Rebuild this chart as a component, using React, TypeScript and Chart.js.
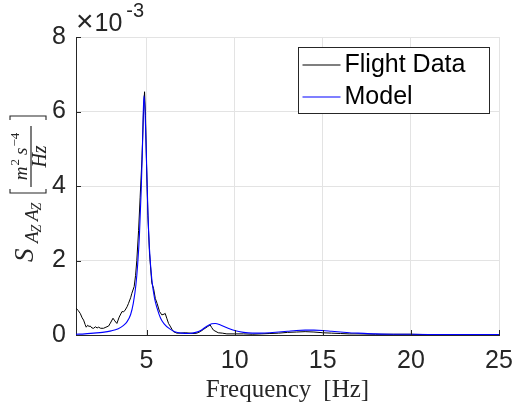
import { useEffect, useRef } from 'react';
import { Chart, registerables } from 'chart.js';

Chart.register(...registerables);

// PSD values are in units of 1e-3 m^2 s^-4 / Hz
const flightFreq = [
  1.0, 1.12, 1.24, 1.35, 1.43, 1.52, 1.58, 1.66, 1.74, 1.81, 1.9, 2.0, 2.1, 2.2, 2.28, 2.4, 2.56, 2.7, 2.85, 2.95,
  3.1, 3.2, 3.32, 3.45, 3.61, 3.7, 3.79, 3.9, 3.98, 4.1, 4.17, 4.3, 4.38, 4.45, 4.55, 4.64, 4.74, 4.83, 4.89, 4.94,
  5.0, 5.08, 5.17, 5.3, 5.4, 5.5, 5.6, 5.74, 5.87, 6.0, 6.06, 6.15, 6.25, 6.34, 6.45, 6.53, 6.72, 6.91,
  7.2, 7.48, 7.7, 7.86, 8.05, 8.23, 8.45, 8.61, 8.7, 8.8, 9.07, 9.3, 9.56, 10.0, 10.5, 11.0, 11.5, 12.0, 12.5, 13.0,
  13.5, 14.0, 14.5, 15.0, 15.5, 16.0, 16.5, 17.0, 18.0, 19.0, 20.0, 21.0, 22.0, 23.0, 24.0, 25.0,
];
const flightPsd = [
  0.72, 0.66, 0.58, 0.46, 0.40, 0.28, 0.21, 0.26, 0.23, 0.24, 0.19, 0.18, 0.22, 0.19, 0.21, 0.18, 0.18, 0.21, 0.24, 0.32,
  0.45, 0.38, 0.31, 0.48, 0.63, 0.62, 0.67, 0.76, 0.85, 1.0, 1.12, 1.30, 1.6, 2.0, 2.8, 3.7, 4.7, 6.0, 6.53, 5.9,
  4.6, 3.2, 2.2, 1.4, 1.25, 0.98, 0.85, 0.63, 0.54, 0.56, 0.58, 0.45, 0.31, 0.24, 0.15, 0.09, 0.05, 0.05,
  0.06, 0.05, 0.04, 0.05, 0.09, 0.15, 0.22, 0.27, 0.2, 0.13, 0.06, 0.05, 0.03, 0.03, 0.03, 0.02, 0.03, 0.04, 0.05, 0.07,
  0.08, 0.09, 0.08, 0.06, 0.05, 0.04, 0.03, 0.03, 0.02, 0.02, 0.02, 0.01, 0.01, 0.01, 0.01, 0.01,
];
const modelFreq = [
  1.0, 1.5, 2.0, 2.5, 3.0, 3.4, 3.7, 3.9, 4.1, 4.25, 4.4, 4.5, 4.6, 4.7, 4.78, 4.85, 4.92, 5.0, 5.08, 5.17,
  5.3, 5.45, 5.6, 5.8, 6.0, 6.3, 6.6, 7.0, 7.4, 7.8, 8.1, 8.4, 8.7, 8.9, 9.2, 9.6, 10.0, 10.5, 11.0, 11.5,
  12.0, 12.5, 13.0, 13.5, 14.0, 14.5, 15.0, 15.5, 16.0, 16.5, 17.0, 18.0, 19.0, 20.0, 22.0, 25.0,
];
const modelPsd = [
  0.02, 0.03, 0.05, 0.07, 0.11, 0.17, 0.26, 0.36, 0.55, 0.85, 1.35, 1.9, 2.7, 3.9, 5.2, 6.42, 6.0, 4.7, 3.3, 2.3,
  1.5, 1.0, 0.72, 0.45, 0.3, 0.17, 0.09, 0.05, 0.04, 0.07, 0.13, 0.23, 0.30, 0.31, 0.27, 0.19, 0.12, 0.07, 0.05, 0.05,
  0.06, 0.08, 0.10, 0.12, 0.13, 0.13, 0.12, 0.10, 0.08, 0.06, 0.05, 0.03, 0.02, 0.02, 0.01, 0.01,
];

const xTickValues = [5, 10, 15, 20, 25];
const yTickValues = [0, 2, 4, 6, 8];
const seriesNames = ['Flight Data', 'Model'];
const seriesColors = ['#000000', '#0000ff'];
const xTitleMain = 'Frequency';
const xTitleUnit = '[Hz]';
const yExponentText = '-3';

const SANS = '"Liberation Sans", Arial, Helvetica, sans-serif';
const SERIF = '"Liberation Serif", "Times New Roman", serif';
const AXIS_COLOR = '#262626';

const overlayPlugin = {
  id: 'matlabOverlay',
  afterDraw(chart: any) {
    const ctx: CanvasRenderingContext2D = chart.ctx;
    const { left, right, top, bottom } = chart.chartArea;
    const xs = chart.scales.x;
    const ys = chart.scales.y;
    ctx.save();

    // inward tick marks
    ctx.strokeStyle = AXIS_COLOR;
    ctx.lineWidth = 1;
    ctx.beginPath();
    for (const v of xTickValues) {
      const px = Math.round(xs.getPixelForValue(v)) + 0.5;
      ctx.moveTo(px, bottom);
      ctx.lineTo(px, bottom - 5);
    }
    for (const v of yTickValues) {
      const py = Math.round(ys.getPixelForValue(v)) + 0.5;
      ctx.moveTo(left, py);
      ctx.lineTo(left + 5, py);
    }
    ctx.stroke();

    // exponent label
    ctx.fillStyle = AXIS_COLOR;
    ctx.textBaseline = 'alphabetic';
    ctx.textAlign = 'left';
    ctx.font = `30px ${SANS}`;
    ctx.fillText('\u00d7', left, top - 6);
    const tw = ctx.measureText('\u00d7').width;
    ctx.font = `25px ${SANS}`;
    ctx.fillText('10', left + tw + 1, top - 6);
    const w10 = ctx.measureText('10').width;
    ctx.font = `20px ${SANS}`;
    ctx.fillText(yExponentText, left + tw + 1 + w10 + 4, top - 20);

    // legend
    const bw = 191, bh = 66;
    const bx = Math.round(right - 10 - bw) + 0.5;
    const by = Math.round(top + 10) + 0.5;
    ctx.fillStyle = '#ffffff';
    ctx.fillRect(bx, by, bw, bh);
    ctx.strokeStyle = AXIS_COLOR;
    ctx.lineWidth = 1;
    ctx.strokeRect(bx, by, bw, bh);
    const rows = [by + 17, by + 49];
    ctx.font = `25px ${SANS}`;
    ctx.textBaseline = 'middle';
    seriesNames.forEach((name, i) => {
      const ry = Math.round(rows[i]);
      ctx.strokeStyle = seriesColors[i];
      ctx.lineWidth = 1.2;
      ctx.beginPath();
      ctx.moveTo(bx + 4, ry);
      ctx.lineTo(bx + 42, ry);
      ctx.stroke();
      ctx.fillStyle = '#000000';
      ctx.fillText(name, bx + 46, rows[i] + 1);
    });

    // x axis title
    ctx.fillStyle = AXIS_COLOR;
    ctx.textBaseline = 'alphabetic';
    ctx.font = `25px ${SERIF}`;
    const w1 = ctx.measureText(xTitleMain).width;
    const w2 = ctx.measureText(xTitleUnit).width;
    const gap = 12;
    const tx = (left + right) / 2 - (w1 + gap + w2) / 2;
    ctx.fillText(xTitleMain, tx, 397);
    ctx.fillText(xTitleUnit, tx + w1 + gap, 397);

    // y axis title (rotated); u along text, v perpendicular (down in text)
    ctx.save();
    ctx.translate(31, (top + bottom) / 2);
    ctx.rotate(-Math.PI / 2);
    ctx.fillStyle = AXIS_COLOR;
    ctx.strokeStyle = AXIS_COLOR;
    ctx.font = `italic 27px ${SERIF}`;
    ctx.fillText('S', -76, 2);
    const subStarts = [-57, -35];
    for (const s of subStarts) {
      ctx.font = `italic 19px ${SERIF}`;
      ctx.fillText('A', s, 7);
      const aw = ctx.measureText('A').width;
      ctx.font = `italic 14px ${SERIF}`;
      ctx.fillText('Z', s + aw - 1, 10);
    }
    const bracket = (pos: number, dir: number) => {
      ctx.lineWidth = 1.1;
      ctx.beginPath();
      ctx.moveTo(pos + dir * 4, -21);
      ctx.lineTo(pos, -21);
      ctx.lineTo(pos, 15);
      ctx.lineTo(pos + dir * 4, 15);
      ctx.stroke();
    };
    bracket(-7, 1);
    const barStart = -1;
    const barW = 61;
    ctx.fillRect(barStart, -0.6, barW, 1.2);
    const numParts: [string, string, number][] = [
      ['m', `italic 19px ${SERIF}`, -4],
      ['2', `13px ${SERIF}`, -12],
      ['s', `italic 19px ${SERIF}`, -4],
      ['\u22124', `13px ${SERIF}`, -12],
    ];
    const gaps = [1, 4, 1, 0];
    let numW = 0;
    const widths = numParts.map(([t, f], i) => {
      ctx.font = f;
      const w = ctx.measureText(t).width + gaps[i];
      numW += w;
      return w;
    });
    let nu = barStart + (barW - numW) / 2;
    numParts.forEach(([t, f, v], i) => {
      ctx.font = f;
      ctx.fillText(t, nu, v);
      nu += widths[i];
    });
    ctx.font = `italic 20px ${SERIF}`;
    const denW = ctx.measureText('Hz').width;
    ctx.fillText('Hz', barStart + (barW - denW) / 2, 15);
    bracket(barStart + barW + 10, -1);
    ctx.restore();

    ctx.restore();
  },
};

export default function App() {
  const canvasRef = useRef<HTMLCanvasElement | null>(null);

  useEffect(() => {
    if (!canvasRef.current) return;
    const chart = new Chart(canvasRef.current, {
      type: 'line',
      data: {
        datasets: [
          {
            label: seriesNames[0],
            data: flightFreq.map((x, i) => ({ x, y: flightPsd[i] })),
            borderColor: seriesColors[0],
            borderWidth: 1,
            pointRadius: 0,
            tension: 0,
            order: 1,
          },
          {
            label: seriesNames[1],
            data: modelFreq.map((x, i) => ({ x, y: modelPsd[i] })),
            borderColor: seriesColors[1],
            borderWidth: 1.1,
            pointRadius: 0,
            cubicInterpolationMode: 'monotone',
            order: 0,
          },
        ],
      },
      options: {
        animation: false,
        responsive: false,
        devicePixelRatio: 1,
        layout: { padding: { left: 0, top: 37, right: 19, bottom: 0 } },
        plugins: { legend: { display: false }, tooltip: { enabled: false } },
        scales: {
          x: {
            type: 'linear',
            min: 1,
            max: 25,
            afterBuildTicks: (scale: any) => {
              scale.ticks = xTickValues.map((v) => ({ value: v }));
            },
            afterFit: (scale: any) => {
              scale.height = 78;
              scale.paddingLeft = 0;
              scale.paddingRight = 0;
            },
            grid: { color: '#e3e3e3', lineWidth: 1, drawTicks: false },
            border: { display: true, color: AXIS_COLOR, width: 1 },
            ticks: {
              color: AXIS_COLOR,
              font: { family: SANS, size: 25 },
              padding: 11,
              maxRotation: 0,
              autoSkip: false,
              callback: (v: any) => String(v),
            },
          },
          y: {
            type: 'linear',
            min: 0,
            max: 8,
            afterBuildTicks: (scale: any) => {
              scale.ticks = yTickValues.map((v) => ({ value: v }));
            },
            afterFit: (scale: any) => {
              scale.width = 76;
              scale.paddingTop = 0;
              scale.paddingBottom = 0;
            },
            grid: { color: '#e3e3e3', lineWidth: 1, drawTicks: false },
            border: { display: true, color: AXIS_COLOR, width: 1 },
            ticks: {
              color: AXIS_COLOR,
              font: { family: SANS, size: 25 },
              padding: 10,
              autoSkip: false,
              callback: (v: any) => String(v),
            },
          },
        },
      },
      plugins: [overlayPlugin],
    } as any);
    return () => chart.destroy();
  }, []);

  return (
    <div style={{ position: 'fixed', left: 0, top: 0, width: 518, height: 413, background: '#ffffff' }}>
      <canvas ref={canvasRef} width={518} height={413} style={{ display: 'block', width: 518, height: 413 }} />
    </div>
  );
}
